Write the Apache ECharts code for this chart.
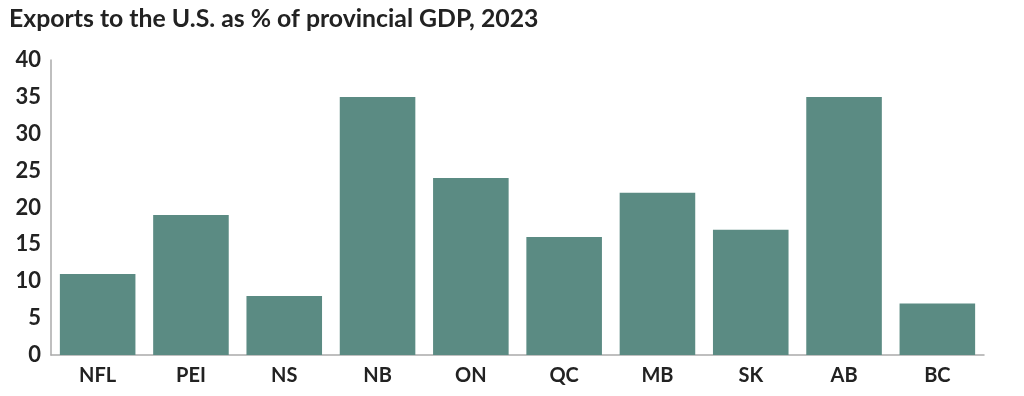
<!DOCTYPE html>
<html><head><meta charset="utf-8">
<script src="https://cdn.jsdelivr.net/npm/echarts@6/dist/echarts.min.js"></script>
<style>html,body{margin:0;padding:0;background:#fff}#c{width:1024px;height:396px}</style>
</head><body><div id="c"></div>
<script>
const title = 'Exports to the U.S. as % of provincial GDP, 2023';
const categories = ['NFL','PEI','NS','NB','ON','QC','MB','SK','AB','BC'];
const values = [11, 19, 8, 35, 24, 16, 22, 17, 35, 7];
const chart = echarts.init(document.getElementById('c'));
chart.setOption({
  animation: false,
  title: {text: title, left: 4, top: 2, textStyle: {fontFamily: 'Lato', fontSize: 24.8, fontWeight: 'bold', color: '#222'}},
  grid: {left: 51, right: 40, top: 60, bottom: 41},
  xAxis: {type: 'category', data: categories,
    axisLine: {lineStyle: {color: '#aaa', width: 1.5}}, axisTick: {show: false},
    axisLabel: {fontFamily: 'Lato', fontSize: 20, fontWeight: 'bold', color: '#222', margin: 11}},
  yAxis: {type: 'value', min: 0, max: 40, interval: 5,
    axisLine: {show: true, lineStyle: {color: '#aaa', width: 1.5}}, axisTick: {show: false}, splitLine: {show: false},
    axisLabel: {fontFamily: 'Lato', fontSize: 22, fontWeight: 'bold', color: '#222', margin: 10}},
  series: [{type: 'bar', data: values, barCategoryGap: '19%', itemStyle: {color: '#5b8b83'}}]
});
</script></body></html>
